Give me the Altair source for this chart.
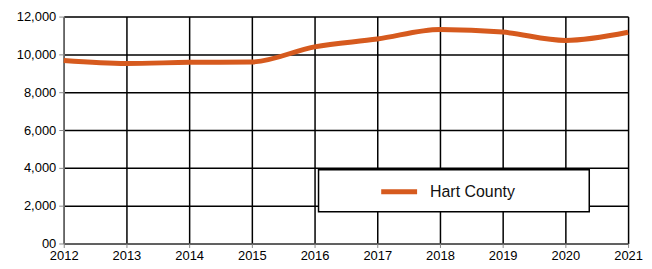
import altair as alt
import pandas as pd

years = [2012, 2013, 2014, 2015, 2016, 2017, 2018, 2019, 2020, 2021]
values = [9680, 9520, 9580, 9600, 10400, 10810, 11320, 11180, 10740, 11170]
series = "Hart County"

df = pd.DataFrame({"year": years, "value": values, "series": [series] * len(years)})

FONT = "Liberation Sans"

box = alt.Chart(pd.DataFrame({"a": [0]})).mark_rect(
    fill="white", stroke="black", strokeWidth=1.5
).encode(
    x=alt.value(256), x2=alt.value(528), y=alt.value(154), y2=alt.value(196)
)

line = alt.Chart(df).mark_line(strokeWidth=5, interpolate="monotone").encode(
    x=alt.X("year:Q", scale=alt.Scale(domain=[2012, 2021], nice=False, zero=False),
            axis=alt.Axis(values=years, format="d", title=None, tickSize=4,
                          labelFontSize=13, labelPadding=2, grid=True, labelFlush=False,
                          gridColor="black", gridWidth=1.5, gridOpacity=1)),
    y=alt.Y("value:Q", scale=alt.Scale(domain=[0, 12000], nice=False),
            axis=alt.Axis(values=[0, 2000, 4000, 6000, 8000, 10000, 12000], format=",.0f",
                          labelExpr="datum.value == 0 ? '00' : format(datum.value, ',')",
                          title=None, tickSize=5, labelFontSize=13, labelPadding=3, grid=True,
                          gridColor="black", gridWidth=1.5, gridOpacity=1)),
    color=alt.Color("series:N", scale=alt.Scale(domain=[series], range=["#D65A1E"]),
                    legend=alt.Legend(title=None, orient="none", legendX=316, legendY=155,
                                      symbolType="stroke", symbolStrokeWidth=5, symbolSize=1300,
                                      labelFontSize=16, labelFont=FONT, labelColor="#111111",
                                      labelOffset=10, padding=0)),
)

chart = alt.layer(box, line).properties(
    width=567, height=228,
    padding={"top": 8, "left": 56, "right": 16, "bottom": 22},
    autosize=alt.AutoSizeParams(type="none"),
).configure_view(stroke="black", strokeWidth=1.5).configure_axis(
    domainColor="black", domainWidth=1.5, tickColor="black", tickWidth=1.5,
    labelFont=FONT, labelColor="#333333",
).configure(background="white")

chart.save("out.html", embed_options={"renderer": "svg", "actions": False})
